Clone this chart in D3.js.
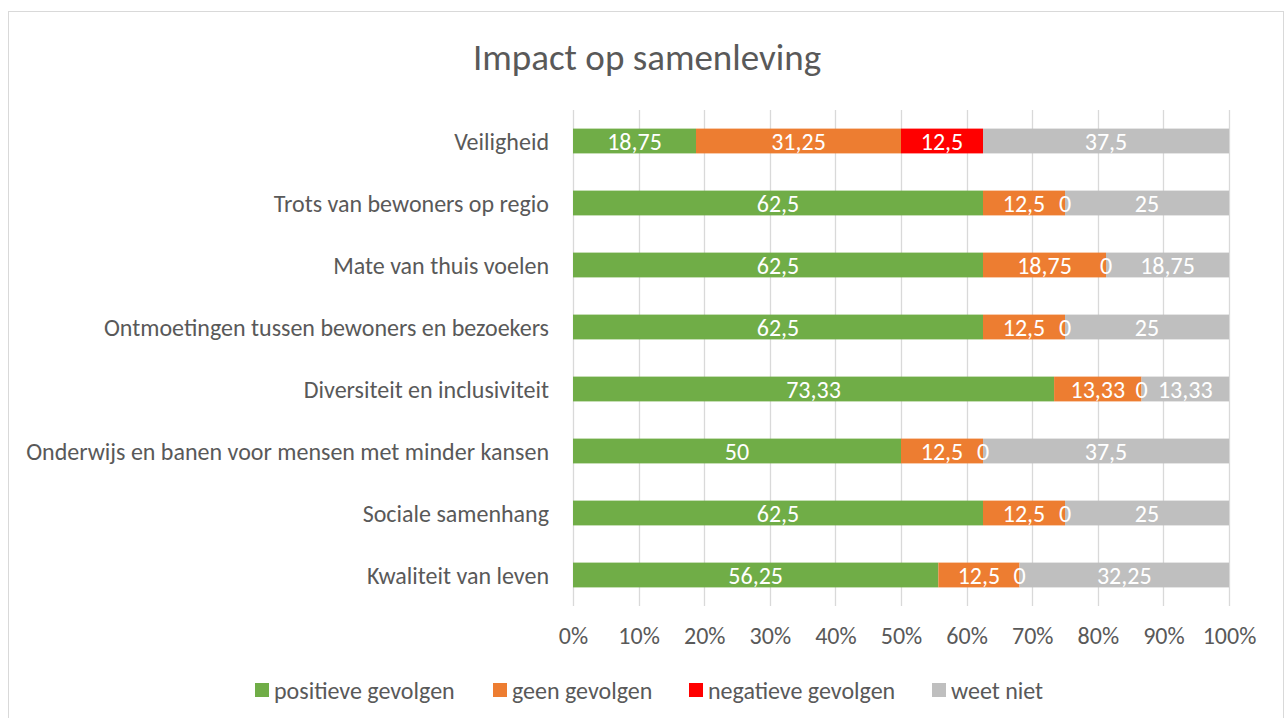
<!DOCTYPE html>
<html>
<head>
<meta charset="utf-8">
<script src="https://cdn.jsdelivr.net/npm/d3@7"></script>
<style>
  body { margin: 0; background: #fff; }
  svg text { font-family: Carlito, 'Open Sans', sans-serif; }
</style>
</head>
<body>
<svg id="chart"></svg>
<script>
// data, top row first
var categories = [
    'Veiligheid',
    'Trots van bewoners op regio',
    'Mate van thuis voelen',
    'Ontmoetingen tussen bewoners en bezoekers',
    'Diversiteit en inclusiviteit',
    'Onderwijs en banen voor mensen met minder kansen',
    'Sociale samenhang',
    'Kwaliteit van leven'
];
var seriesNames = ['positieve gevolgen', 'geen gevolgen', 'negatieve gevolgen', 'weet niet'];
var positief = [18.75, 62.5, 62.5, 62.5, 73.33, 50, 62.5, 56.25];
var geen = [31.25, 12.5, 18.75, 12.5, 13.33, 12.5, 12.5, 12.5];
var negatief = [12.5, 0, 0, 0, 0, 0, 0, 0];
var weetNiet = [37.5, 25, 18.75, 25, 13.33, 37.5, 25, 32.25];
var tickValues = [0, 0.1, 0.2, 0.3, 0.4, 0.5, 0.6, 0.7, 0.8, 0.9, 1];

var colors = ['#70AD47', '#ED7D31', '#FF0000', '#BFBFBF'];
var textColor = '#595959';

var svgWidth = 1287,
    svgHeight = 718;
var margin = {top: 110, right: 58, bottom: 112, left: 573};

var svg = d3.select('#chart')
    .attr('width', svgWidth)
    .attr('height', svgHeight);

// chart frame
svg.append('rect')
    .attr('x', 8.5)
    .attr('y', 11.5)
    .attr('width', 1275)
    .attr('height', 720)
    .attr('fill', '#fff')
    .attr('stroke', '#d9d9d9')
    .attr('stroke-width', 1);

svg.append('text')
    .attr('x', 647)
    .attr('y', 70)
    .attr('text-anchor', 'middle')
    .attr('fill', textColor)
    .style('font-size', '37px')
    .text('Impact op samenleving');

var table = categories.map(function (c, i) {
    var row = {category: c};
    row[seriesNames[0]] = positief[i];
    row[seriesNames[1]] = geen[i];
    row[seriesNames[2]] = negatief[i];
    row[seriesNames[3]] = weetNiet[i];
    return row;
});

var stack = d3.stack()
    .keys(seriesNames)
    .offset(d3.stackOffsetExpand);
var layers = stack(table);

var x = d3.scaleLinear()
    .domain([0, 1])
    .range([margin.left, svgWidth - margin.right]);

var y = d3.scaleBand()
    .domain(categories)
    .range([margin.top, svgHeight - margin.bottom])
    .paddingInner(0.6)
    .paddingOuter(0.3);

// gridlines
svg.append('g')
    .selectAll('line')
    .data(tickValues)
    .enter()
    .append('line')
    .attr('x1', function (d) { return Math.round(x(d)) + 0.5; })
    .attr('x2', function (d) { return Math.round(x(d)) + 0.5; })
    .attr('y1', margin.top)
    .attr('y2', svgHeight - margin.bottom)
    .attr('stroke', '#d9d9d9')
    .attr('stroke-width', 1.3);

// bars
svg.selectAll('.layer')
    .data(layers)
    .enter()
    .append('g')
    .attr('class', 'layer')
    .attr('fill', function (d, i) { return colors[i]; })
    .selectAll('rect')
    .data(function (d) { return d; })
    .enter()
    .append('rect')
    .attr('x', function (d) { return x(d[0]); })
    .attr('y', function (d) { return y(d.data.category); })
    .attr('width', function (d) { return x(d[1]) - x(d[0]); })
    .attr('height', y.bandwidth());

// value labels, drawn after all bars so the zero labels stay visible
var fmt = function (v) { return String(v).replace('.', ','); };
svg.selectAll('.labels')
    .data(layers)
    .enter()
    .append('g')
    .attr('class', 'labels')
    .selectAll('text')
    .data(function (d) {
        return d.map(function (p) { return {p: p, key: d.key}; });
    })
    .enter()
    .append('text')
    .attr('x', function (d) { return (x(d.p[0]) + x(d.p[1])) / 2; })
    .attr('y', function (d) { return y(d.p.data.category) + y.bandwidth() / 2; })
    .attr('dy', '0.36em')
    .attr('text-anchor', 'middle')
    .attr('fill', '#fff')
    .style('font-size', '24px')
    .text(function (d) { return fmt(d.p.data[d.key]); });

// category axis
var yAxis = svg.append('g')
    .attr('transform', 'translate(' + (margin.left - 24) + ',0)')
    .call(d3.axisLeft(y).tickSize(0).tickPadding(0));
yAxis.select('.domain').remove();
yAxis.selectAll('text')
    .attr('fill', textColor)
    .attr('dy', '0.36em')
    .style('font-size', '24px')
    .style('font-family', "Carlito, 'Open Sans', sans-serif");

// percent axis
var xAxis = svg.append('g')
    .attr('transform', 'translate(0,' + (svgHeight - margin.bottom) + ')')
    .call(d3.axisBottom(x).tickValues(tickValues).tickFormat(d3.format('.0%')).tickSize(0).tickPadding(21));
xAxis.select('.domain').remove();
xAxis.selectAll('text')
    .attr('fill', textColor)
    .style('font-size', '24px')
    .style('font-family', "Carlito, 'Open Sans', sans-serif");

// legend
var legendX = [255, 493, 689, 932];
var legend = svg.append('g')
    .selectAll('g')
    .data(seriesNames)
    .enter()
    .append('g')
    .attr('transform', function (d, i) { return 'translate(' + legendX[i] + ',690)'; });
legend.append('rect')
    .attr('x', 0)
    .attr('y', -7)
    .attr('width', 14)
    .attr('height', 14)
    .attr('fill', function (d, i) { return colors[i]; });
legend.append('text')
    .attr('x', 19)
    .attr('dy', '0.36em')
    .attr('fill', textColor)
    .style('font-size', '24px')
    .text(function (d) { return d; });
</script>
</body>
</html>
